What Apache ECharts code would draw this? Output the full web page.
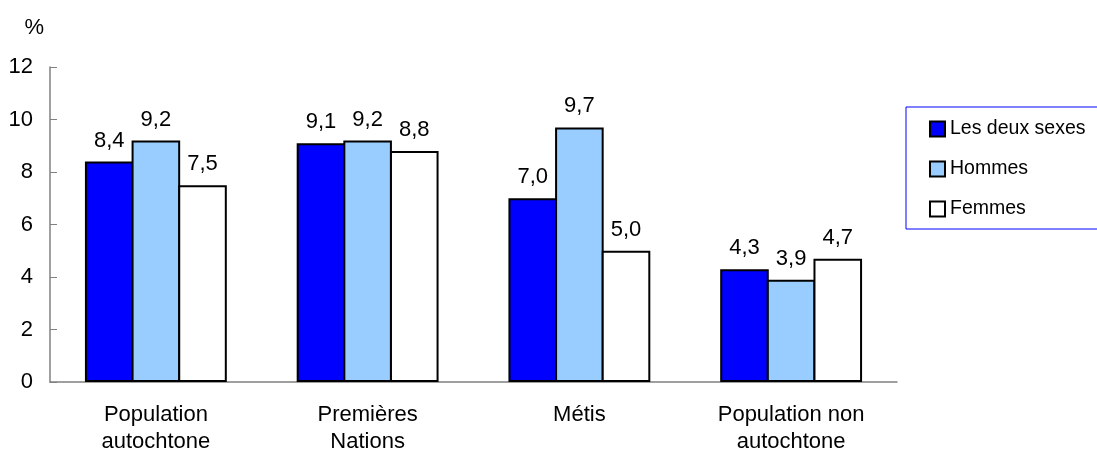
<!DOCTYPE html>
<html><head><meta charset="utf-8">
<script src="https://cdn.jsdelivr.net/npm/echarts@6/dist/echarts.min.js"></script>
<style>html,body{margin:0;padding:0;background:#fff}#c{width:1097px;height:455px}</style>
</head><body><div id="c"></div>
<script>
const categories = ['Population\nautochtone', 'Premières\nNations', 'Métis', 'Population non\nautochtone'];
const seriesNames = ['Les deux sexes', 'Hommes', 'Femmes'];
const bothSexes = [8.4, 9.1, 7.0, 4.3];
const men = [9.2, 9.2, 9.7, 3.9];
const women = [7.5, 8.8, 5.0, 4.7];
const yTicks = [0, 2, 4, 6, 8, 10, 12];

const colors = ['#0000ff', '#99ccff', '#ffffff'];
const dataSets = [bothSexes, men, women];
const font = 'Liberation Sans, Arial, sans-serif';

const chart = echarts.init(document.getElementById('c'));
chart.setOption({
  animation: false,
  textStyle: { fontFamily: font },
  grid: { left: 50, right: 200, top: 67, bottom: 68 },
  legend: {
    orient: 'vertical',
    left: 906, top: 107,
    width: 200,
    padding: [12, 30, 10, 23],
    borderColor: '#0000ff', borderWidth: 1,
    itemWidth: 15, itemHeight: 15, itemGap: 20,
    icon: 'rect',
    textStyle: { fontSize: 19.5, color: '#000', fontFamily: font },
    data: seriesNames
  },
  xAxis: {
    type: 'category', data: categories,
    axisLine: { lineStyle: { color: '#808080', width: 1.5 } },
    axisTick: { show: false },
    axisLabel: { fontSize: 22, color: '#000', margin: 19, lineHeight: 27, fontFamily: font }
  },
  yAxis: {
    type: 'value', min: 0, max: 12, interval: 2,
    name: '%', nameLocation: 'end', nameGap: 28,
    nameTextStyle: { fontSize: 22, color: '#000', align: 'right', padding: [0, 6, 0, 0] },
    axisLine: { show: true, lineStyle: { color: '#808080', width: 1.5 } },
    axisTick: { show: true, inside: true, length: 7, lineStyle: { color: '#808080' } },
    splitLine: { show: false },
    axisLabel: { fontSize: 22, color: '#000', margin: 17, fontFamily: font,
      formatter: v => yTicks.includes(v) ? String(v) : '' }
  },
  series: seriesNames.map((name, i) => ({
    name, type: 'bar', data: dataSets[i],
    barGap: '-4%', barCategoryGap: '33%',
    itemStyle: { color: colors[i], borderColor: '#000', borderWidth: 2 },
    label: { show: true, position: 'top', distance: 10, fontSize: 22, color: '#000', fontFamily: font,
      formatter: p => p.value.toFixed(1).replace('.', ',') }
  }))
});
</script></body></html>
